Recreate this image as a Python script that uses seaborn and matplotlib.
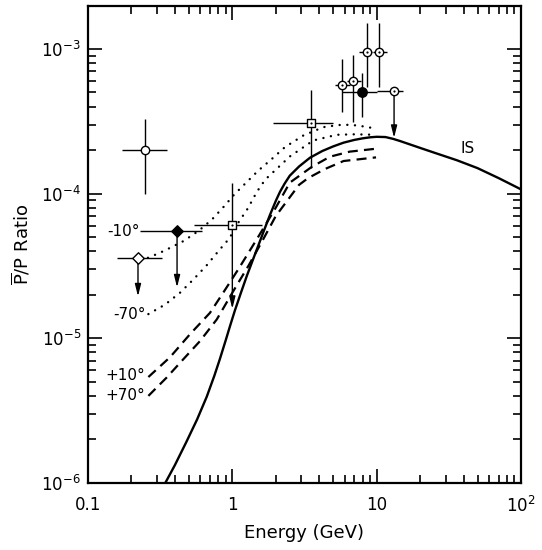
import numpy as np
import pandas as pd
import matplotlib
matplotlib.use("Agg")
import matplotlib.pyplot as plt
import seaborn as sns
from matplotlib.ticker import FixedLocator, LogLocator, NullFormatter

# ---------------- data ----------------
# interstellar (IS) curve
is_x = [0.343, 0.40, 0.48, 0.57, 0.665, 0.75, 0.82, 0.90, 0.96, 1.04, 1.15, 1.26, 1.39,
        1.51, 1.65, 1.82, 2.0, 2.14, 2.3, 2.5, 2.9, 3.45, 4.2, 5.0, 5.9, 7.0, 8.0, 9.0,
        10.0, 11.5, 13.0, 14.5, 20, 25, 36, 50, 70, 100]
is_y = [1.0e-6, 1.33e-6, 1.92e-6, 2.75e-6, 3.95e-6, 5.5e-6, 7.2e-6, 9.7e-6, 1.2e-5,
        1.55e-5, 2.08e-5, 2.7e-5, 3.5e-5, 4.35e-5, 5.5e-5, 7.1e-5, 8.9e-5, 1.03e-4,
        1.17e-4, 1.33e-4, 1.54e-4, 1.77e-4, 1.97e-4, 2.12e-4, 2.25e-4, 2.35e-4, 2.41e-4,
        2.45e-4, 2.47e-4, 2.46e-4, 2.39e-4, 2.31e-4, 2.07e-4, 1.92e-4, 1.70e-4, 1.50e-4,
        1.28e-4, 1.07e-4]

# solar-modulated curves
m10_x = [0.26, 0.315, 0.36, 0.457, 0.58, 0.72, 0.88, 1.03, 1.13, 1.51, 1.87, 2.32,
         3.10, 4.27, 5.5, 6.55, 7.66, 10.0]
m10_y = [3.6e-5, 3.9e-5, 4.16e-5, 4.69e-5, 5.5e-5, 6.6e-5, 8.2e-5, 9.85e-5, 1.08e-4,
         1.44e-4, 1.73e-4, 2.10e-4, 2.52e-4, 2.88e-4, 2.98e-4, 2.99e-4, 2.94e-4, 2.81e-4]

m70_x = [0.262, 0.342, 0.435, 0.537, 0.665, 0.80, 0.953, 1.10, 1.28, 1.48, 1.69,
         1.98, 2.51, 3.64, 5.28, 7.0, 10.0]
m70_y = [1.47e-5, 1.71e-5, 2.07e-5, 2.55e-5, 3.2e-5, 4.0e-5, 4.9e-5, 6.3e-5, 7.9e-5,
         1.03e-4, 1.25e-4, 1.45e-4, 1.81e-4, 2.33e-4, 2.55e-4, 2.57e-4, 2.55e-4]

p10_x = [0.262, 0.37, 0.51, 0.70, 0.86, 1.1, 1.47, 2.0, 2.5, 3.55, 4.75, 6.5, 9.75]
p10_y = [5.4e-6, 7.4e-6, 1.07e-5, 1.5e-5, 2.05e-5, 3.0e-5, 4.8e-5, 8.0e-5, 1.19e-4,
         1.53e-4, 1.80e-4, 1.95e-4, 2.04e-4]

p70_x = [0.262, 0.351, 0.457, 0.597, 0.78, 1.01, 1.3, 1.63, 2.0, 2.9, 3.35, 4.39, 5.9, 9.9]
p70_y = [4.0e-6, 5.36e-6, 7.16e-6, 9.57e-6, 1.35e-5, 2.1e-5, 3.2e-5, 4.8e-5, 7.0e-5,
         1.15e-4, 1.28e-4, 1.48e-4, 1.68e-4, 1.78e-4]

# measurements: x, y, x_low, x_high, y_low, y_high
circ_open = dict(x=[0.25], y=[2.0e-4], xlo=[0.172], xhi=[0.352], ylo=[1.0e-4], yhi=[3.3e-4])
circ_dot = dict(x=[5.75, 6.86, 8.57, 10.4], y=[5.65e-4, 6.0e-4, 9.5e-4, 9.5e-4],
                xlo=[5.12, 6.2, 7.6, 9.4], xhi=[6.5, 7.8, 9.3, 11.8],
                ylo=[3.68e-4, 3.14e-4, 5.47e-4, 5.47e-4], yhi=[8.5e-4, 9.1e-4, 1.51e-3, 1.51e-3])
circ_fill = dict(x=[7.92], y=[5.05e-4], xlo=[5.75], xhi=[10.0], ylo=[3.4e-4], yhi=[6.8e-4])
square = dict(x=[3.5], y=[3.07e-4], xlo=[1.92], xhi=[5.0], ylo=[1.5e-4], yhi=[5.2e-4])

# upper limits: x, y, x_low, x_high, y_high (bar top), arrow tip
lim_square = dict(x=[1.0], y=[6.1e-5], xlo=[0.54], xhi=[1.6], yhi=[1.19e-4], tip=[1.6e-5])
lim_dfill = dict(x=[0.414], y=[5.5e-5], xlo=[0.229], xhi=[0.616], tip=[2.25e-5])
lim_dopen = dict(x=[0.222], y=[3.6e-5], xlo=[0.159], xhi=[0.325], tip=[1.95e-5])
lim_cdot = dict(x=[13.2], y=[5.1e-4], xlo=[10.0], xhi=[15.2], tip=[2.43e-4])

xtick_vals = [0.1, 1, 10, 100]
xtick_labels = ["0.1", "1", "10", r"$10^2$"]
ytick_vals = [1e-6, 1e-5, 1e-4, 1e-3]
ytick_labels = [r"$10^{-6}$", r"$10^{-5}$", r"$10^{-4}$", r"$10^{-3}$"]

# ---------------- style ----------------
sns.set_theme(style="ticks")
plt.rcParams["font.family"] = ["DejaVu Sans"]
plt.rcParams["mathtext.default"] = "regular"

W, H = 542, 550
fig = plt.figure(figsize=(W / 100, H / 100), dpi=100)
L, R, T, B = 88, 521, 6, 483
ax = fig.add_axes([L / W, 1 - B / H, (R - L) / W, (B - T) / H])
ax.set_xscale("log")
ax.set_yscale("log")

k = "black"
sns.lineplot(x=is_x, y=is_y, ax=ax, color=k, lw=1.7, estimator=None, sort=False)
for xs, ys in [(m10_x, m10_y), (m70_x, m70_y)]:
    sns.lineplot(x=xs, y=ys, ax=ax, color=k, lw=1.7, estimator=None, sort=False,
                 linestyle=(0, (0.05, 3.2)), dash_capstyle="round")
for xs, ys in [(p10_x, p10_y), (p70_x, p70_y)]:
    sns.lineplot(x=xs, y=ys, ax=ax, color=k, lw=1.6, estimator=None, sort=False,
                 linestyle=(0, (4.5, 2.8)))


def bars(d, with_y=True):
    x = np.array(d["x"]); y = np.array(d["y"])
    xerr = [x - np.array(d["xlo"]), np.array(d["xhi"]) - x]
    yerr = None
    if with_y:
        yerr = [y - np.array(d["ylo"]), np.array(d["yhi"]) - y]
    ax.errorbar(x, y, xerr=xerr, yerr=yerr, fmt="none", ecolor=k, elinewidth=1.0,
                capsize=0, zorder=3)


for d in [circ_open, circ_dot, circ_fill, square]:
    bars(d)
for d in [lim_dfill, lim_dopen, lim_cdot]:
    bars(d, with_y=False)
xs = np.array(lim_square["x"]); ys = np.array(lim_square["y"])
ax.errorbar(xs, ys, xerr=[xs - np.array(lim_square["xlo"]), np.array(lim_square["xhi"]) - xs],
            yerr=[[0], np.array(lim_square["yhi"]) - ys], fmt="none", ecolor=k,
            elinewidth=1.0, capsize=0, zorder=3)

for d in [lim_square, lim_dfill, lim_dopen, lim_cdot]:
    for x0, y0, yt in zip(d["x"], d["y"], d["tip"]):
        ax.annotate("", xy=(x0, yt), xytext=(x0, y0),
                    arrowprops=dict(arrowstyle="-|>,head_length=0.8,head_width=0.2",
                                    color=k, lw=1.0, shrinkA=0, shrinkB=0,
                                    mutation_scale=9), zorder=3)

mk = dict(ax=ax, legend=False, zorder=5)
sns.scatterplot(x=circ_open["x"], y=circ_open["y"], marker="o", s=36, facecolor="white",
                edgecolor=k, linewidth=1.0, **mk)
sns.scatterplot(x=circ_dot["x"] + lim_cdot["x"], y=circ_dot["y"] + lim_cdot["y"],
                marker="o", s=36, facecolor="white", edgecolor=k, linewidth=1.0, **mk)
sns.scatterplot(x=circ_fill["x"], y=circ_fill["y"], marker="o", s=46, facecolor=k,
                edgecolor=k, linewidth=1.0, **mk)
sns.scatterplot(x=square["x"] + lim_square["x"], y=square["y"] + lim_square["y"],
                marker="s", s=30, facecolor="white", edgecolor=k, linewidth=1.0, **mk)
sns.scatterplot(x=lim_dfill["x"], y=lim_dfill["y"], marker="D", s=34, facecolor=k,
                edgecolor=k, linewidth=1.0, **mk)
sns.scatterplot(x=lim_dopen["x"], y=lim_dopen["y"], marker="D", s=34, facecolor="white",
                edgecolor=k, linewidth=1.0, **mk)
sns.scatterplot(x=circ_dot["x"] + lim_cdot["x"] + square["x"] + lim_square["x"],
                y=circ_dot["y"] + lim_cdot["y"] + square["y"] + lim_square["y"],
                marker="o", s=2.5, color=k, linewidth=0, ax=ax, legend=False, zorder=6)

# curve labels
fs_lab = 11
ax.text(0.228, 5.5e-5, "-10°", ha="right", va="center", fontsize=fs_lab, color=k)
ax.text(0.25, 1.47e-5, "-70°", ha="right", va="center", fontsize=fs_lab, color=k)
ax.text(0.25, 5.5e-6, "+10°", ha="right", va="center", fontsize=fs_lab, color=k)
ax.text(0.25, 4.0e-6, "+70°", ha="right", va="center", fontsize=fs_lab, color=k)
ax.text(43, 2.04e-4, "IS", ha="center", va="center", fontsize=11, color=k)

# axes
ax.set_xlim(0.1, 100)
ax.set_ylim(1e-6, 1.98e-3)
ax.xaxis.set_major_locator(FixedLocator(xtick_vals))
ax.set_xticklabels(xtick_labels)
ax.yaxis.set_major_locator(FixedLocator(ytick_vals))
ax.set_yticklabels(ytick_labels)
ax.xaxis.set_minor_locator(LogLocator(base=10, subs=np.arange(2, 10), numticks=20))
ax.yaxis.set_minor_locator(LogLocator(base=10, subs=np.arange(2, 10), numticks=20))
ax.xaxis.set_minor_formatter(NullFormatter())
ax.yaxis.set_minor_formatter(NullFormatter())
ax.tick_params(which="both", direction="in", top=True, right=True, color=k, width=1.2)
ax.tick_params(which="major", length=10)
ax.tick_params(which="minor", length=6)
ax.tick_params(axis="x", which="major", labelsize=12, pad=9, labelcolor=k)
ax.tick_params(axis="y", which="major", labelsize=12, pad=5, labelcolor=k)
for s in ax.spines.values():
    s.set_visible(True)
    s.set_linewidth(1.6)
    s.set_color(k)

ax.set_xlabel("Energy (GeV)", fontsize=13, color=k, labelpad=6)
ax.set_ylabel(r"$\overline{P}$/P Ratio", fontsize=13, color=k, labelpad=6)
ax.set_facecolor("white")
fig.patch.set_facecolor("white")

fig.savefig("out.png", dpi=100)
